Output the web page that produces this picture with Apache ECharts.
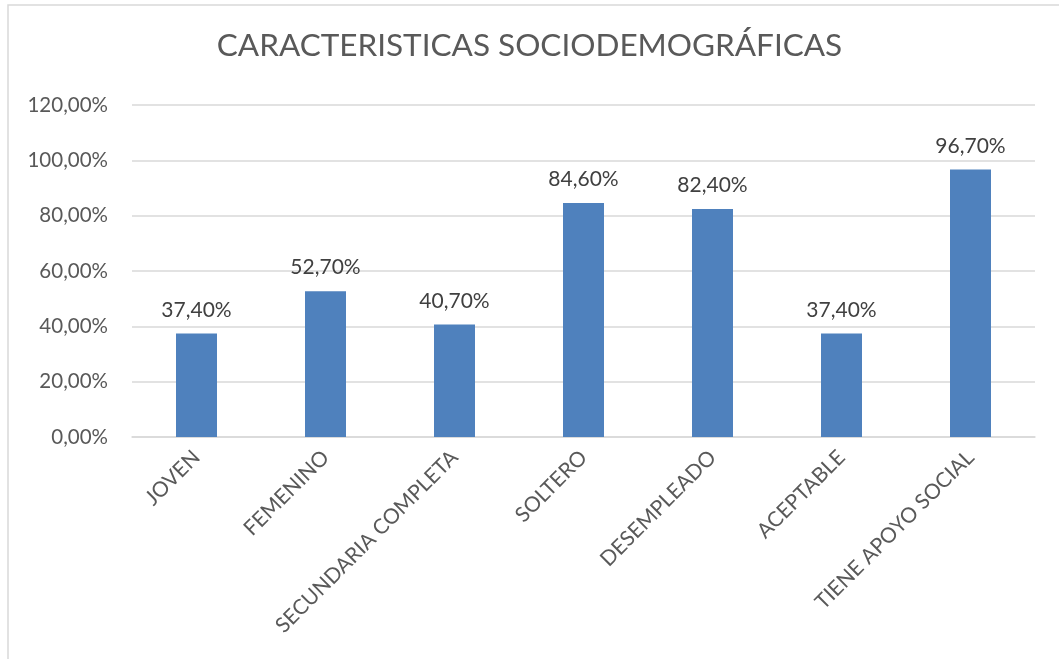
<!DOCTYPE html>
<html>
<head>
<meta charset="utf-8">
<script src="https://cdn.jsdelivr.net/npm/echarts@6/dist/echarts.min.js"></script>
<style>
  html, body { margin: 0; padding: 0; background: #fff; }
  #chart { width: 1059px; height: 659px; }
</style>
</head>
<body>
<div id="chart"></div>
<script>
// categorias y porcentajes
var categories = ["JOVEN", "FEMENINO", "SECUNDARIA COMPLETA", "SOLTERO", "DESEMPLEADO", "ACEPTABLE", "TIENE APOYO SOCIAL"];
var values = [37.4, 52.7, 40.7, 84.6, 82.4, 37.4, 96.7];
var yTicks = [0, 20, 40, 60, 80, 100, 120];

function pct(v) {
  return v.toFixed(2).replace(".", ",") + "%";
}

var myChart = echarts.init(document.getElementById("chart"));
var option = {
  animation: false,
  textStyle: { fontFamily: "Lato" },
  graphic: [
    {
      type: "rect",
      shape: { x: 8, y: 5, width: 1200, height: 800 },
      style: { fill: "none", stroke: "#d9d9d9", lineWidth: 1.5 },
      silent: true
    }
  ],
  title: {
    text: "CARACTERISTICAS SOCIODEMOGRÁFICAS",
    left: "center",
    top: 25,
    textStyle: { fontSize: 31.5, fontWeight: "normal", color: "#595959", fontFamily: "Lato" }
  },
  grid: { left: 132, right: 24, top: 105, bottom: 222 },
  xAxis: {
    type: "category",
    data: categories,
    axisLine: { lineStyle: { color: "#d9d9d9", width: 1.5 } },
    axisTick: { show: false },
    axisLabel: { rotate: 45, fontSize: 21, color: "#595959", margin: 17, interval: 0 }
  },
  yAxis: {
    type: "value",
    min: yTicks[0],
    max: yTicks[yTicks.length - 1],
    interval: 20,
    axisLine: { show: false },
    axisTick: { show: false },
    splitLine: { lineStyle: { color: "#d9d9d9", width: 1.5 } },
    axisLabel: { fontSize: 20.5, color: "#595959", margin: 24, formatter: function (v) { return pct(v); } }
  },
  series: [
    {
      type: "bar",
      data: values,
      barWidth: 41,
      itemStyle: { color: "#4f81bd" },
      label: {
        show: true,
        position: "top",
        distance: 13,
        fontSize: 21,
        color: "#404040",
        formatter: function (p) { return pct(p.value); }
      }
    }
  ]
};
option && myChart.setOption(option);
</script>
</body>
</html>
